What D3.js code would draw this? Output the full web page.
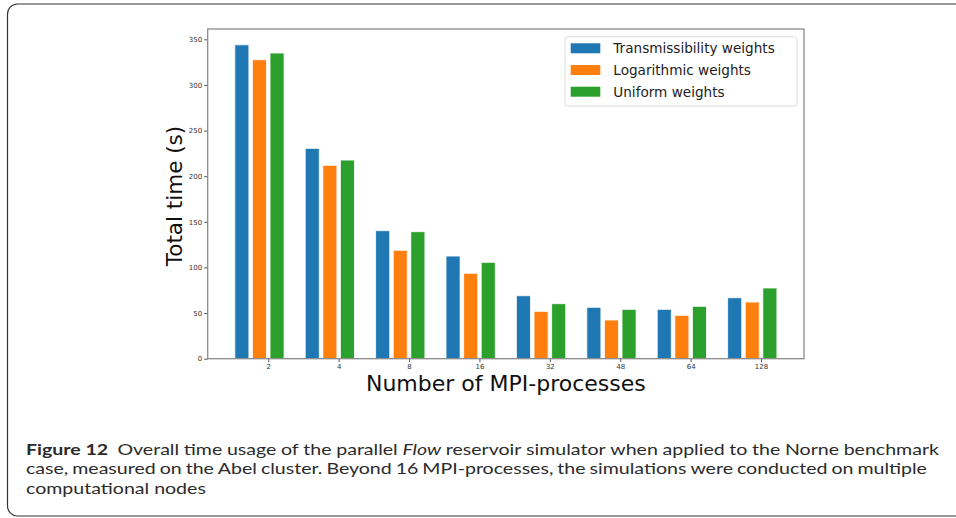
<!DOCTYPE html>
<html>
<head>
<meta charset="utf-8">
<script src="https://cdn.jsdelivr.net/npm/d3@7"></script>
<style>
  body { margin: 0; background: #fff; }
  .tick text { font-family: "DejaVu Sans"; font-size: 7px; fill: #333; }
  .tick line { stroke: #555; }
</style>
</head>
<body>
<div id="graf"></div>
<script>
// datos
const procesos = ["2", "4", "8", "16", "32", "48", "64", "128"];
const transmisibilidad = [344, 230.5, 140.3, 112.5, 69, 56.3, 54.1, 66.8];
const logaritmico = [327.6, 211.9, 118.8, 93.6, 51.9, 42.4, 47.5, 62.1];
const uniforme = [335, 217.7, 139.2, 105.6, 60.3, 54.1, 57.4, 77.5];
const nombresSeries = ["Transmissibility weights", "Logarithmic weights", "Uniform weights"];
const ticksY = [0, 50, 100, 150, 200, 250, 300, 350];

const colores = ["#1f77b4", "#ff7f0e", "#2ca02c"];
const series = [transmisibilidad, logaritmico, uniforme];

const anchoTotal = 956, altoTotal = 518;
const svg = d3.select("#graf").append("svg")
  .attr("width", anchoTotal)
  .attr("height", altoTotal);

// marco redondeado de la figura
svg.append("rect")
  .attr("x", 7.5).attr("y", 4)
  .attr("width", 1000).attr("height", 512)
  .attr("rx", 10)
  .attr("fill", "none")
  .attr("stroke", "#333")
  .attr("stroke-width", 1.2);

// Escaladores
const x = d3.scaleLinear().domain([-0.485, 7.985]).range([207.7, 804]);
const y = d3.scaleLinear().domain([0, 361.3]).range([358.7, 29]);
const paso = 0.25, anchoBarra = 0.2;

const g = svg.append("g");

// Barras
series.forEach((valores, k) => {
  g.append("g").selectAll("rect")
    .data(valores)
    .enter()
    .append("rect")
    .attr("x", (d, i) => x(i + k * paso - anchoBarra / 2))
    .attr("y", d => y(d))
    .attr("width", x(anchoBarra) - x(0))
    .attr("height", d => y(0) - y(d))
    .attr("fill", colores[k])
    .attr("stroke", "#fff")
    .attr("stroke-opacity", 0.8)
    .attr("stroke-width", 1);
});

// Ejes
const xAxis = d3.axisBottom(x)
  .tickValues(procesos.map((d, i) => i + 1.5 * paso))
  .tickFormat((d, i) => procesos[i])
  .tickSize(3.5).tickPadding(2);
const yAxis = d3.axisLeft(y).tickValues(ticksY).tickSize(3.5).tickPadding(2);

g.append("g").attr("transform", `translate(0, ${y(0)})`).call(xAxis)
  .call(s => s.select(".domain").remove());
g.append("g").attr("transform", `translate(${x.range()[0]}, 0)`).call(yAxis)
  .call(s => s.select(".domain").remove());

// marco de los ejes
g.append("rect")
  .attr("x", x.range()[0]).attr("y", y.range()[1])
  .attr("width", x.range()[1] - x.range()[0])
  .attr("height", y.range()[0] - y.range()[1])
  .attr("fill", "none")
  .attr("stroke", "#8a8a8a")
  .attr("stroke-width", 1.3);

// Titulos de ejes
g.append("text")
  .attr("x", (x.range()[0] + x.range()[1]) / 2)
  .attr("y", 391)
  .attr("text-anchor", "middle")
  .attr("font-family", "DejaVu Sans")
  .attr("font-size", 22)
  .attr("fill", "#111")
  .text("Number of MPI-processes");

g.append("text")
  .attr("transform", "translate(181.5, 196) rotate(-90)")
  .attr("text-anchor", "middle")
  .attr("font-family", "DejaVu Sans")
  .attr("font-size", 21.5)
  .attr("fill", "#111")
  .text("Total time (s)");

// Leyenda
const leyenda = g.append("g");
leyenda.append("rect")
  .attr("x", 565).attr("y", 36.7)
  .attr("width", 232).attr("height", 69.3)
  .attr("rx", 2.5)
  .attr("fill", "#fff")
  .attr("stroke", "#ddd");
nombresSeries.forEach((nombre, k) => {
  const cy = 48.3 + k * 21.7;
  leyenda.append("rect")
    .attr("x", 570.7).attr("y", cy - 5)
    .attr("width", 29.6).attr("height", 10)
    .attr("fill", colores[k]);
  leyenda.append("text")
    .attr("x", 613.3).attr("y", cy + 5)
    .attr("font-family", "DejaVu Sans")
    .attr("font-size", 13.6)
    .attr("fill", "#222")
    .text(nombre);
});

// Pie de figura (texto justificado palabra por palabra)
const tam = 15.8;
const pie = svg.append("g")
  .attr("font-family", "Lato")
  .attr("font-size", tam)
  .attr("fill", "#2b2b2b");

// estirar en horizontal: la ultima linea mide ~180px en la figura
const prueba = pie.append("text").text("computational nodes");
const sx = Math.min(1.3, 180 / prueba.node().getComputedTextLength());
prueba.remove();

function colocarLinea(palabras, yLinea, xIni, xFin) {
  const nodos = palabras.map(p => pie.append("text")
    .attr("font-weight", p.negrita ? "bold" : null)
    .attr("font-style", p.cursiva ? "italic" : null)
    .text(p.t));
  const anchos = nodos.map(n => n.node().getComputedTextLength() * sx);
  // el hueco despues de "12" es doble
  const pesos = palabras.slice(0, -1).map(p => p.doble ? 2 : 1);
  const hueco = pesos.length ? ((xFin - xIni) - d3.sum(anchos)) / d3.sum(pesos) : 0;
  let xAct = xIni;
  nodos.forEach((n, i) => {
    n.attr("transform", `translate(${xAct}, ${yLinea}) scale(${sx}, 1)`);
    xAct += anchos[i] + (i < pesos.length ? hueco * pesos[i] : 0);
  });
}

const linea1 = [{ t: "Figure", negrita: true }, { t: "12", negrita: true, doble: true }]
  .concat("Overall time usage of the parallel".split(" ").map(t => ({ t })))
  .concat([{ t: "Flow", cursiva: true }])
  .concat("reservoir simulator when applied to the Norne benchmark".split(" ").map(t => ({ t })));
const linea2 = "case, measured on the Abel cluster. Beyond 16 MPI-processes, the simulations were conducted on multiple"
  .split(" ").map(t => ({ t }));

colocarLinea(linea1, 454.5, 26, 939);
colocarLinea(linea2, 473.5, 26, 927);
colocarLinea([{ t: "computational nodes" }], 493.5, 26, 206);
</script>
</body>
</html>
